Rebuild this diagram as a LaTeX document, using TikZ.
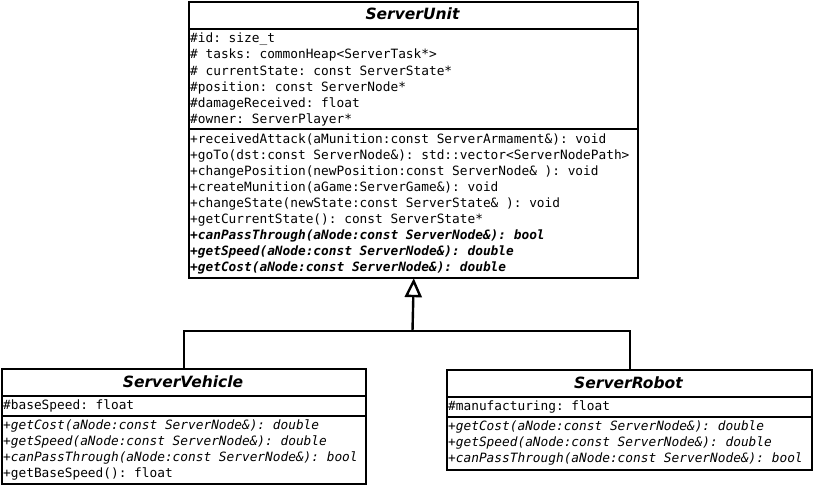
\documentclass[tikz,border=0pt]{standalone}
\usepackage{fontspec}
\setmonofont{DejaVu Sans Mono}
\newfontfamily\titlefont{DejaVu Sans}
\usetikzlibrary{arrows.meta}
\tikzset{
  classbox/.style={draw, line width=2.4pt, rectangle, anchor=north west, inner sep=0pt, fill=white},
  sepline/.style={line width=2pt},
  cname/.style={font=\titlefont\bfseries\itshape\fontsize{15.5}{18}\selectfont, anchor=base, inner sep=0pt},
  mem/.style={font=\ttfamily\fontsize{12.8}{16}\selectfont, anchor=base west, inner sep=0pt},
  absmem/.style={mem, font=\ttfamily\bfseries\itshape\fontsize{12.8}{16}\selectfont},
  itmem/.style={mem, font=\ttfamily\itshape\fontsize{12.8}{16}\selectfont},
  link/.style={line width=2.4pt},
}
\begin{document}
\begin{tikzpicture}[x=1pt,y=-1pt]
\useasboundingbox[fill=white] (0,0) rectangle (813,487);
% ServerUnit
\node[classbox, minimum width=449pt, minimum height=276pt] (unit) at (188,1) {};
\draw[sepline] (unit.west |- 0,29) -- (unit.east |- 0,29);
\draw[sepline] (unit.west |- 0,129) -- (unit.east |- 0,129);
\node[cname] (unitname) at (412.5,20) {ServerUnit};
\node[mem] (u1) at (190,43) {\#id: size\_t};
\node[mem] (u2) at (190,59) {\# tasks: commonHeap<ServerTask*>};
\node[mem] (u3) at (190,75) {\# currentState: const ServerState*};
\node[mem] (u4) at (190,91) {\#position: const ServerNode*};
\node[mem] (u5) at (190,107) {\#damageReceived: float};
\node[mem] (u6) at (190,123) {\#owner: ServerPlayer*};
\node[mem] (m1) at (190,143) {+receivedAttack(aMunition:const ServerArmament\&): void};
\node[mem] (m2) at (190,159) {+goTo(dst:const ServerNode\&): std::vector<ServerNodePath>};
\node[mem] (m3) at (190,175) {+changePosition(newPosition:const ServerNode\& ): void};
\node[mem] (m4) at (190,191) {+createMunition(aGame:ServerGame\&): void};
\node[mem] (m5) at (190,207) {+changeState(newState:const ServerState\& ): void};
\node[mem] (m6) at (190,223) {+getCurrentState(): const ServerState*};
\node[absmem] (m7) at (190,239) {+canPassThrough(aNode:const ServerNode\&): bool};
\node[absmem] (m8) at (190,255) {+getSpeed(aNode:const ServerNode\&): double};
\node[absmem] (m9) at (190,271) {+getCost(aNode:const ServerNode\&): double};
% ServerVehicle
\node[classbox, minimum width=364pt, minimum height=115pt] (veh) at (1,368) {};
\draw[sepline] (veh.west |- 0,396) -- (veh.east |- 0,396);
\draw[sepline] (veh.west |- 0,416) -- (veh.east |- 0,416);
\node[cname] (vehname) at (183,387) {ServerVehicle};
\node[mem] (v1) at (3,409) {\#baseSpeed: float};
\node[itmem] (v2) at (3,429) {+getCost(aNode:const ServerNode\&): double};
\node[itmem] (v3) at (3,445) {+getSpeed(aNode:const ServerNode\&): double};
\node[itmem] (v4) at (3,461) {+canPassThrough(aNode:const ServerNode\&): bool};
\node[mem] (v5) at (3,477) {+getBaseSpeed(): float};
% ServerRobot
\node[classbox, minimum width=365pt, minimum height=100pt] (rob) at (446,369) {};
\draw[sepline] (rob.west |- 0,397) -- (rob.east |- 0,397);
\draw[sepline] (rob.west |- 0,417) -- (rob.east |- 0,417);
\node[cname] (robname) at (628.5,388) {ServerRobot};
\node[mem] (r1) at (448,410) {\#manufacturing: float};
\node[itmem] (r2) at (448,430) {+getCost(aNode:const ServerNode\&): double};
\node[itmem] (r3) at (448,446) {+getSpeed(aNode:const ServerNode\&): double};
\node[itmem] (r4) at (448,462) {+canPassThrough(aNode:const ServerNode\&): bool};
% generalization
\coordinate (junc) at (412.5,331);
\draw[link] (veh.north) |- (junc) -| (rob.north);
\draw[link, shorten >=-1.2pt, -{Triangle[open, length=19pt, width=17pt, fill=white]}] (junc) -- (unit.south);
\end{tikzpicture}
\end{document}
